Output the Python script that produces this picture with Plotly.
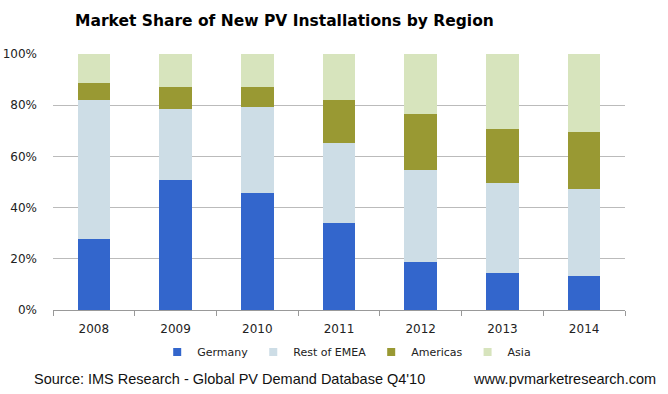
import plotly.graph_objects as go

years = ["2008", "2009", "2010", "2011", "2012", "2013", "2014"]
germany = [27.7, 50.6, 45.6, 33.9, 18.8, 14.4, 13.2]
rest_emea = [54.5, 28.1, 33.6, 31.2, 35.7, 35.1, 33.9]
americas = [6.6, 8.6, 8.1, 17.1, 21.9, 21.4, 22.6]
asia = [11.2, 12.7, 12.7, 17.8, 23.6, 29.1, 30.3]

series = [
    ("Germany", germany, "#3366CC"),
    ("Rest of EMEA", rest_emea, "#CDDDE6"),
    ("Americas", americas, "#999933"),
    ("Asia", asia, "#D7E4BD"),
]

W, H = 668, 394
fig = go.Figure()
for name, vals, color in series:
    fig.add_trace(go.Bar(x=years, y=vals, name=name, showlegend=False,
                         marker=dict(color=color, line=dict(width=0))))
# legend entries with small square symbols
for name, vals, color in series:
    fig.add_trace(go.Scatter(x=[None], y=[None], mode="markers", name=name,
                             marker=dict(symbol="square", size=8, color=color)))

fig.update_layout(
    barmode="stack",
    bargap=0.6,
    width=W, height=H,
    margin=dict(l=53, r=43, t=54, b=84, autoexpand=False),
    paper_bgcolor="white", plot_bgcolor="white",
    font=dict(family="DejaVu Sans", size=12, color="#222222"),
    title=dict(text="<b>Market Share of New PV Installations by Region</b>",
               x=75/W, xanchor="left", y=1 - 21/H, yanchor="middle",
               font=dict(family="DejaVu Sans", size=15.5, color="#000000")),
    legend=dict(orientation="h", x=343 / W, xanchor="center", y=1 - 352/H, yref="container",
                yanchor="middle", font=dict(size=11), traceorder="normal", itemwidth=30,
                bgcolor="rgba(0,0,0,0)"),
    showlegend=True,
    annotations=[
        dict(text="Source: IMS Research - Global PV Demand Database Q4'10", xref="paper", yref="paper",
             x=(32 - 53) / 572, y=(310 - 379) / 256, xanchor="left", yanchor="middle", showarrow=False,
             font=dict(family="Liberation Sans", size=14.5, color="#111111")),
        dict(text="www.pvmarketresearch.com", xref="paper", yref="paper",
             x=(658 - 53) / 572, y=(310 - 379) / 256, xanchor="right", yanchor="middle", showarrow=False,
             font=dict(family="Liberation Sans", size=14.5, color="#111111")),
    ],
)
fig.update_xaxes(type="category", showline=True, linecolor="#999999", linewidth=1,
                 ticks="outside", tickson="boundaries", ticklen=5, tickcolor="#999999",
                 showgrid=False, tickfont=dict(size=12), ticklabelstandoff=8, automargin=False)
fig.update_yaxes(range=[0, 100], tickvals=[0, 20, 40, 60, 80, 100], ticktext=["0%", "20%", "40%", "60%", "80%", "100%"],
                 showgrid=True, gridcolor="#BBBBBB", gridwidth=1, zeroline=False, showline=False,
                 ticks="", ticklabelstandoff=15, tickfont=dict(size=12), automargin=False)

fig.write_html("out.html", post_script="document.body.style.margin='0';",
               config={"displayModeBar": False})
